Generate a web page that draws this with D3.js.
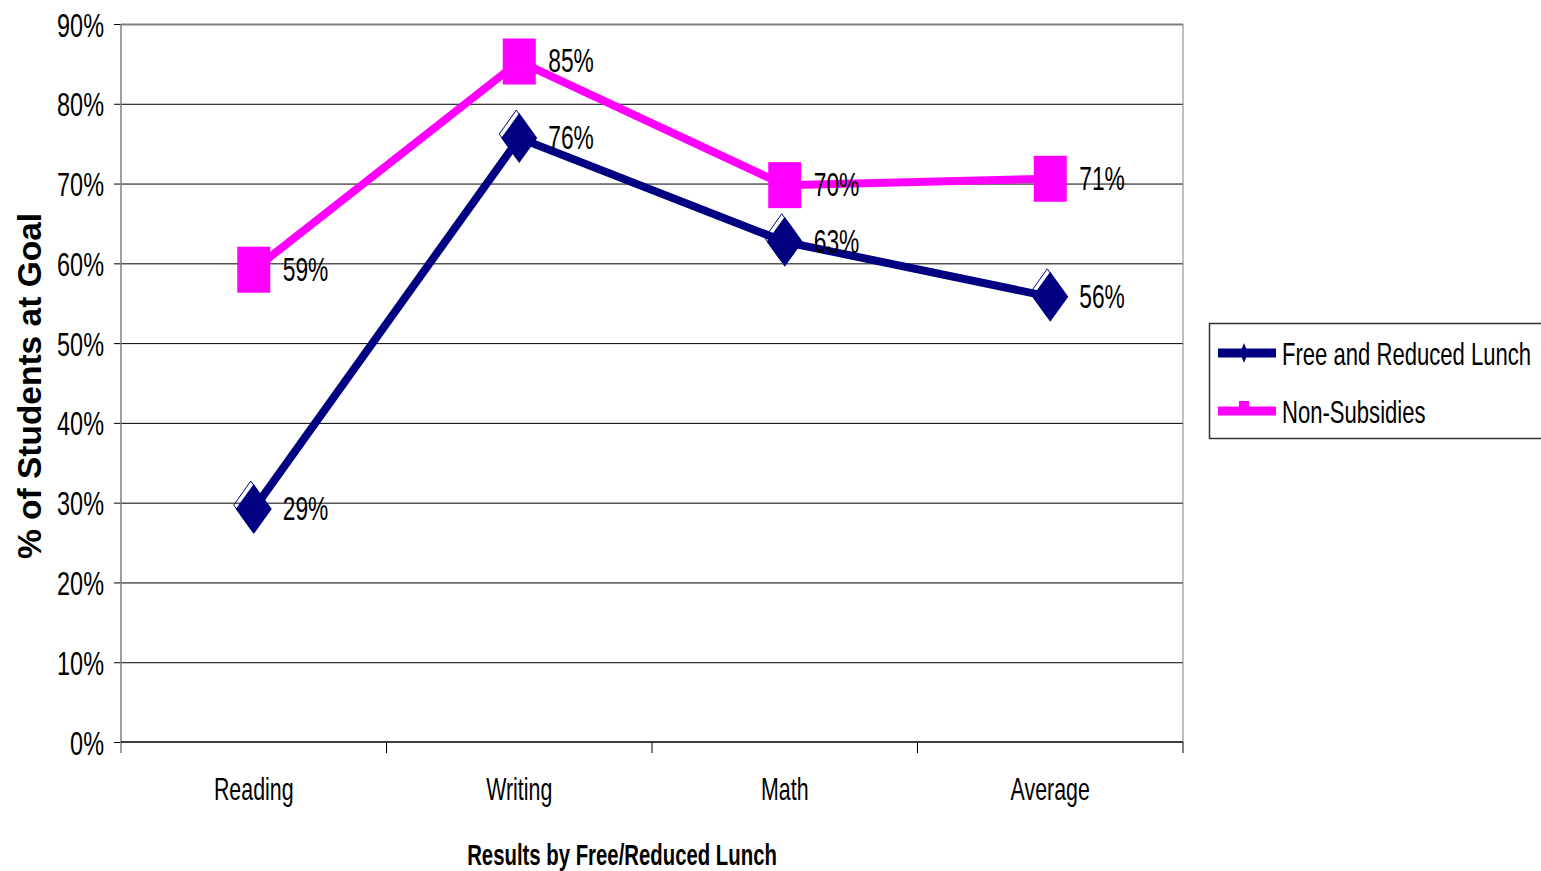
<!DOCTYPE html>
<html>
<head>
<meta charset="utf-8">
<script src="https://cdn.jsdelivr.net/npm/d3@7"></script>
<style>
  body { margin: 0; background: #fff; }
  text { font-family: "Liberation Sans", Arial, sans-serif; fill: #000; }
</style>
</head>
<body>
<div id="chart"></div>
<script>
// chart data
var categories = ["Reading", "Writing", "Math", "Average"];
var freeReduced = [0.292, 0.757, 0.627, 0.558];
var nonSubsidies = [0.592, 0.853, 0.698, 0.706];
var seriesNames = ["Free and Reduced Lunch", "Non-Subsidies"];
var yTicks = [0, 0.1, 0.2, 0.3, 0.4, 0.5, 0.6, 0.7, 0.8, 0.9];

var W = 1541, H = 871;
var plotLeft = 121, plotRight = 1183, plotTop = 24, plotBottom = 742;
var navy = "#000080", pink = "#ff00ff";
var sx = 0.69; // text is drawn narrow in the original

var svg = d3.select("#chart").append("svg").attr("width", W).attr("height", H);

var x = d3.scaleBand().domain(categories).range([plotLeft, plotRight]);
var y = d3.scaleLinear().domain([0, 0.9]).range([plotBottom, plotTop]);
var pct = d3.format(".0%");

function narrowText(g, px, py, str, size, anchor, weight) {
  return g.append("text")
    .attr("transform", "translate(" + px + "," + py + ") scale(" + sx + ",1)")
    .attr("text-anchor", anchor || "start")
    .attr("font-size", size)
    .attr("font-weight", weight || "normal")
    .text(str);
}

// gridlines
var grid = svg.append("g").attr("transform", "translate(" + plotLeft + ",0)")
  .call(d3.axisLeft(y).tickValues(yTicks.slice(1)).tickSize(-(plotRight - plotLeft)).tickFormat(""));
grid.select(".domain").remove();
grid.selectAll("line").attr("stroke", "#000").attr("stroke-width", 1);
grid.selectAll(".tick").filter(function(d) { return d == 0.9; }).select("line")
  .attr("stroke", "#808080").attr("stroke-width", 2);

// right border
svg.append("line").attr("x1", plotRight).attr("x2", plotRight).attr("y1", plotTop).attr("y2", plotBottom)
  .attr("stroke", "#808080").attr("stroke-width", 1);

// y axis
var yAx = svg.append("g").attr("transform", "translate(" + plotLeft + ",0)")
  .call(d3.axisLeft(y).tickValues(yTicks).tickSize(7).tickFormat(pct));
yAx.select(".domain").remove();
yAx.selectAll("line").attr("stroke", "#000");
yAx.selectAll("text").remove();
yAx.selectAll(".tick").each(function(d) {
  narrowText(d3.select(this), -17, 12, pct(d), 34, "end");
});
svg.append("line").attr("x1", plotLeft).attr("x2", plotLeft).attr("y1", plotTop).attr("y2", plotBottom + 11)
  .attr("stroke", "#808080").attr("stroke-width", 1.5);

// x axis
svg.append("line").attr("x1", plotLeft).attr("x2", plotRight).attr("y1", plotBottom).attr("y2", plotBottom)
  .attr("stroke", "#000").attr("stroke-width", 1.5);
svg.selectAll(".xtick").data(categories).enter().append("line")
  .attr("x1", function(d) { return x(d) + x.bandwidth(); })
  .attr("x2", function(d) { return x(d) + x.bandwidth(); })
  .attr("y1", plotBottom).attr("y2", plotBottom + 11)
  .attr("stroke", "#000");
categories.forEach(function(c) {
  narrowText(svg, x(c) + x.bandwidth() / 2, 800, c, 31, "middle");
});

// axis titles
narrowText(svg, 622, 865, "Results by Free/Reduced Lunch", 29.5, "middle", "bold");
svg.append("text")
  .attr("transform", "translate(41,386) rotate(-90)")
  .attr("text-anchor", "middle")
  .attr("font-size", 33.5)
  .attr("font-weight", "bold")
  .text("% of Students at Goal");

// lines
var cx = function(d, i) { return x(categories[i]) + x.bandwidth() / 2; };
var line = d3.line().x(cx).y(function(d) { return y(d); });

svg.append("path").datum(nonSubsidies).attr("d", line)
  .attr("fill", "none").attr("stroke", pink).attr("stroke-width", 8);
svg.append("path").datum(freeReduced).attr("d", line)
  .attr("fill", "none").attr("stroke", navy).attr("stroke-width", 8);

// markers
function diamond(w, h) {
  return "M0," + (-h) + "L" + w + ",0L0," + h + "L" + (-w) + ",0Z";
}
svg.selectAll(".sq").data(nonSubsidies).enter().append("rect")
  .attr("x", function(d, i) { return cx(d, i) - 16.5; })
  .attr("y", function(d) { return y(d) - 23; })
  .attr("width", 33).attr("height", 46)
  .attr("fill", pink);

var dm = svg.selectAll(".dm").data(freeReduced).enter().append("g")
  .attr("transform", function(d, i) { return "translate(" + cx(d, i) + "," + y(d) + ")"; });
dm.append("path").attr("d", diamond(17, 24))
  .attr("transform", "translate(-3,-4)")
  .attr("fill", "none").attr("stroke", navy).attr("stroke-width", 1);
dm.append("path").attr("d", diamond(18, 25)).attr("fill", navy);

// data labels
nonSubsidies.forEach(function(d, i) {
  narrowText(svg, cx(d, i) + 29, y(d) + 11, pct(d), 33, "start");
});
freeReduced.forEach(function(d, i) {
  narrowText(svg, cx(d, i) + 29, y(d) + 11, pct(d), 33, "start");
});

// legend
var lg = svg.append("g");
lg.append("rect").attr("x", 1209.5).attr("y", 323.5).attr("width", 340).attr("height", 115)
  .attr("fill", "#fff").attr("stroke", "#333").attr("stroke-width", 1.5);
var lgColors = [navy, pink];
seriesNames.forEach(function(name, i) {
  var ly = 353 + i * 58;
  lg.append("line").attr("x1", 1218).attr("x2", 1276).attr("y1", ly).attr("y2", ly)
    .attr("stroke", lgColors[i]).attr("stroke-width", 9);
  if (i == 0) {
    lg.append("path").attr("d", diamond(4, 10))
      .attr("transform", "translate(1244," + ly + ")").attr("fill", navy);
  } else {
    lg.append("rect").attr("x", 1239).attr("y", ly - 10).attr("width", 10).attr("height", 14)
      .attr("fill", pink);
  }
  narrowText(lg, 1282, ly + 12, name, 32, "start");
});
</script>
</body>
</html>
